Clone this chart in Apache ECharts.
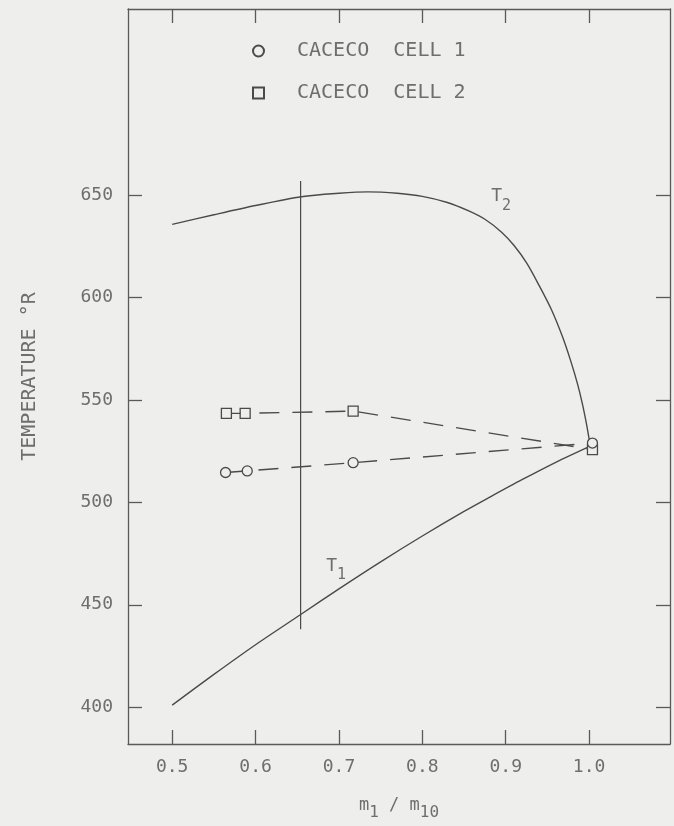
<!DOCTYPE html>
<html>
<head>
<meta charset="utf-8">
<script src="https://cdn.jsdelivr.net/npm/echarts@6/dist/echarts.min.js"></script>
<style>
html,body{margin:0;padding:0;background:#eeeeec;}
#chart{width:674px;height:826px;}
</style>
</head>
<body>
<div id="chart"></div>
<script>
// ---- data ----
const xTicks = [0.5, 0.6, 0.7, 0.8, 0.9, 1.0];
const yTicks = [400, 450, 500, 550, 600, 650];

const t2X = [0.5, 0.55, 0.6, 0.655, 0.7, 0.735, 0.77, 0.8, 0.83, 0.855, 0.875, 0.895, 0.91, 0.925, 0.94, 0.955, 0.968, 0.978, 0.986, 0.992, 0.997, 1.0, 1.0015];
const t2Y = [635.8, 640.5, 645, 649.3, 651, 651.7, 651, 649.5, 646.5, 642.5, 638.3, 632, 625.5, 617, 606, 594, 581, 569, 558, 548, 538, 531, 528];

const t1X = [0.5, 0.55, 0.6, 0.655, 0.7, 0.75, 0.8, 0.85, 0.881, 0.92, 0.96, 1.004];
const t1Y = [401, 416, 430.5, 445.5, 457.8, 471, 483.6, 495.6, 502.6, 511.2, 519.6, 528];

const cell1X = [0.564, 0.590, 0.717, 1.004];
const cell1Y = [514.6, 515.4, 519.4, 529];
const cell2X = [0.565, 0.5875, 0.717, 1.004];
const cell2Y = [543.5, 543.5, 544.6, 525.8];

const refLineX = [0.654, 0.654];
const refLineY = [438, 657];

const legendNames = ['CACECO  CELL 1', 'CACECO  CELL 2'];
const t2LabelPos = [0.8945, 649.3];
const t1LabelPos = [0.6966, 469];

// ---- build ----
const zip = (xs, ys) => xs.map((x, i) => [x, ys[i]]);
const INK = '#4a4a4a';
const TXT = '#6e6e6e';
const BG = '#eeeeec';
const FONT = 'DejaVu Sans Mono';

const axisLine = { show: true, lineStyle: { color: '#5a5a5a', width: 1.3 } };
const tickStyle = (vals) => ({ show: true, inside: true, length: 14, customValues: vals, lineStyle: { color: '#5a5a5a', width: 1.3 } });

const chart = echarts.init(document.getElementById('chart'), null, { renderer: 'canvas' });
chart.setOption({
  backgroundColor: BG,
  animation: false,
  textStyle: { fontFamily: FONT, color: TXT },
  grid: { left: 128, right: 4, top: 9, bottom: 73, containLabel: false },
  legend: {
    orient: 'vertical',
    left: 247,
    top: 36,
    itemWidth: 11,
    itemHeight: 11,
    itemGap: 22,
    data: legendNames,
    textStyle: { fontFamily: FONT, fontSize: 20, color: TXT, padding: [0, 0, 0, 28] }
  },
  xAxis: [
    {
      type: 'value', position: 'bottom', min: 0.447, max: 1.097,
      axisLine: axisLine, axisTick: tickStyle(xTicks),
      splitLine: { show: false },
      axisLabel: { customValues: xTicks, margin: 14, fontSize: 18, color: TXT, fontFamily: FONT,
        formatter: v => v.toFixed(1) },
      name: '{a|m}{b|1}{a| / m}{b|10}',
      nameLocation: 'middle', nameGap: 47,
      nameTextStyle: {
        rich: {
          a: { fontFamily: FONT, fontSize: 17, color: TXT },
          b: { fontFamily: FONT, fontSize: 16, color: TXT, padding: [14, 0, 0, 0] }
        }
      }
    },
    {
      type: 'value', position: 'top', min: 0.447, max: 1.097,
      axisLine: axisLine, axisTick: tickStyle(xTicks),
      splitLine: { show: false }, axisLabel: { show: false }
    }
  ],
  yAxis: [
    {
      type: 'value', position: 'left', min: 382, max: 741,
      axisLine: axisLine, axisTick: tickStyle(yTicks),
      splitLine: { show: false },
      axisLabel: { customValues: yTicks, margin: 15, fontSize: 18, color: TXT, fontFamily: FONT },
      name: 'TEMPERATURE °R', nameLocation: 'middle', nameGap: 88, nameRotate: 90,
      nameTextStyle: { fontFamily: FONT, fontSize: 20, color: TXT }
    },
    {
      type: 'value', position: 'right', min: 382, max: 741,
      axisLine: axisLine, axisTick: tickStyle(yTicks),
      splitLine: { show: false }, axisLabel: { show: false }
    }
  ],
  series: [
    {
      name: 'T2', type: 'line', data: zip(t2X, t2Y), smooth: 0.3, showSymbol: false,
      lineStyle: { color: INK, width: 1.4 }, z: 2,
      markPoint: {
        symbol: 'circle', symbolSize: 0,
        data: [{ coord: t2LabelPos }],
        label: { show: true, position: 'inside', formatter: '{t|T}{s|2}',
          rich: { t: { fontFamily: FONT, fontSize: 18, color: TXT }, s: { fontFamily: FONT, fontSize: 15, color: TXT, padding: [18, 0, 0, 0] } } }
      }
    },
    {
      name: 'T1', type: 'line', data: zip(t1X, t1Y), smooth: 0.3, showSymbol: false,
      lineStyle: { color: INK, width: 1.4 }, z: 2,
      markPoint: {
        symbol: 'circle', symbolSize: 0,
        data: [{ coord: t1LabelPos }],
        label: { show: true, position: 'inside', formatter: '{t|T}{s|1}',
          rich: { t: { fontFamily: FONT, fontSize: 18, color: TXT }, s: { fontFamily: FONT, fontSize: 15, color: TXT, padding: [18, 0, 0, 0] } } }
      }
    },
    {
      name: 'ref', type: 'line', data: zip(refLineX, refLineY), showSymbol: false,
      lineStyle: { color: INK, width: 1.2 }, z: 2
    },
    {
      name: 'cell1line', type: 'line', data: zip(cell1X, cell1Y), showSymbol: false,
      lineStyle: { color: INK, width: 1.4, type: [20, 13] }, z: 2
    },
    {
      name: 'cell2line', type: 'line', data: zip(cell2X, cell2Y), showSymbol: false,
      lineStyle: { color: INK, width: 1.4, type: [20, 13] }, z: 2
    },
    {
      name: legendNames[0], type: 'scatter', data: zip(cell1X, cell1Y),
      symbol: 'circle', symbolSize: 10,
      itemStyle: { color: BG, borderColor: INK, borderWidth: 1.3, opacity: 1 }, z: 5
    },
    {
      name: legendNames[1], type: 'scatter', data: zip(cell2X, cell2Y),
      symbol: 'rect', symbolSize: 10,
      itemStyle: { color: BG, borderColor: INK, borderWidth: 1.3, opacity: 1 }, z: 4
    }
  ]
});
</script>
</body>
</html>
